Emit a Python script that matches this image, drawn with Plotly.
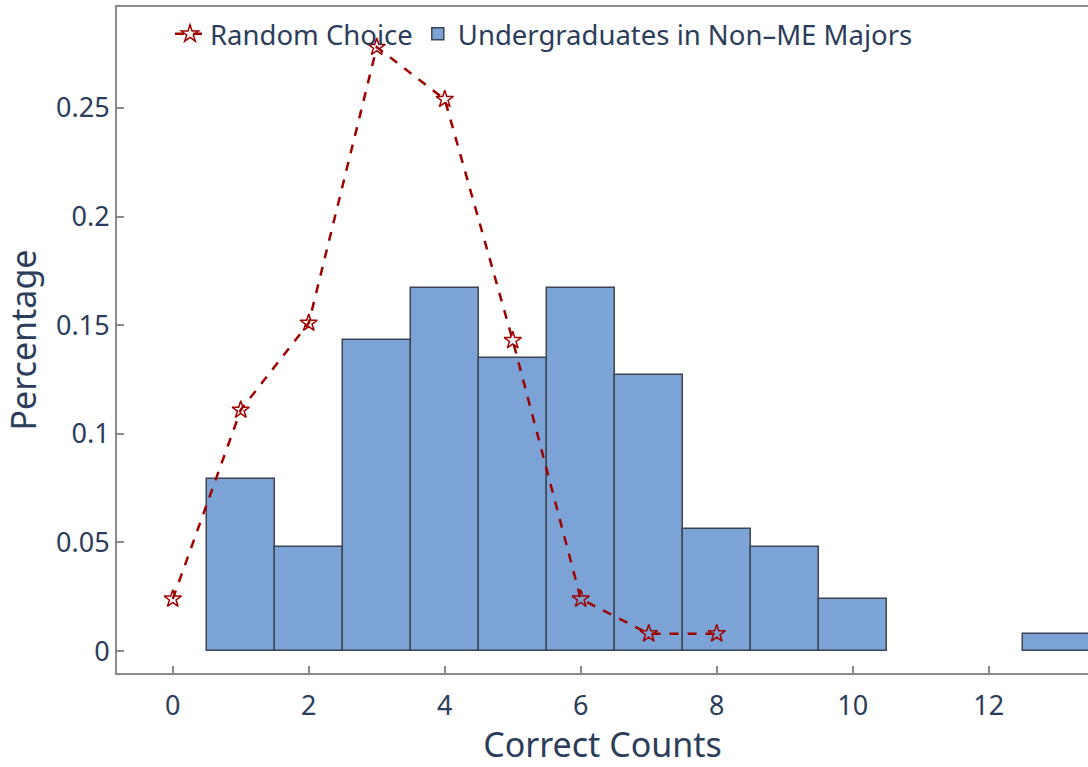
import plotly.graph_objects as go

# Data
bar_x = [1, 2, 3, 4, 5, 6, 7, 8, 9, 10, 13]
bar_y = [0.079, 0.048, 0.143, 0.167, 0.135, 0.167, 0.127, 0.056, 0.048, 0.024, 0.008]
line_x = [0, 1, 2, 3, 4, 5, 6, 7, 8]
line_y = [0.024, 0.111, 0.151, 0.278, 0.254, 0.143, 0.024, 0.008, 0.008]
ytick_vals = [0, 0.05, 0.1, 0.15, 0.2, 0.25]
ytick_text = ["0", "0.05", "0.1", "0.15", "0.2", "0.25"]
xtick_vals = [0, 2, 4, 6, 8, 10, 12]

TXT = "#2B3D5B"
AX = "#8a8a8a"
FONT = "Noto Sans"

fig = go.Figure()
fig.add_trace(go.Bar(
    x=bar_x, y=bar_y, width=1, name="Undergraduates in Non\u2013ME Majors",
    marker=dict(color="#7BA3D6", line=dict(color="#3E4552", width=1.5)),
))
fig.add_trace(go.Scatter(
    x=line_x, y=line_y, mode="lines+markers", name="Random Choice",
    line=dict(color="#9E0000", width=2.5, dash="dash"),
    marker=dict(symbol="star-open", size=13, color="#9E0000", line=dict(width=1.5, color="#9E0000")),
))

fig.update_layout(
    width=1088, height=767,
    margin=dict(l=117, r=0, t=7, b=94),
    plot_bgcolor="white", paper_bgcolor="white",
    font=dict(family=FONT, color=TXT, size=27),
    bargap=0,
    legend=dict(orientation="h", x=0.0546, y=0.9595, xanchor="left", yanchor="middle",
                font=dict(size=27.5, color=TXT), bgcolor="rgba(0,0,0,0)",
                traceorder="reversed", itemwidth=30),
    showlegend=True,
)
fig.update_xaxes(
    range=[-0.82, 13.46], tickvals=xtick_vals, ticks="inside", ticklen=7, tickwidth=1.5,
    tickcolor=AX, showline=True, linecolor=AX, linewidth=2, mirror=True,
    showgrid=False, zeroline=False, tickfont=dict(size=27, color=TXT), automargin=False,
    ticklabelstandoff=8,
    title=dict(text="Correct Counts", font=dict(size=34, color=TXT), standoff=13),
)
fig.update_yaxes(
    range=[-0.0101, 0.2965], tickvals=ytick_vals, ticktext=ytick_text, ticks="inside",
    ticklen=7, tickwidth=1.5, tickcolor=AX, showline=True, linecolor=AX, linewidth=2,
    mirror=True, showgrid=False, zeroline=False, tickfont=dict(size=27, color=TXT),
    automargin=False,
    title=dict(text="Percentage", font=dict(size=34, color=TXT), standoff=10),
)

fig.write_html("out.html", config={"displayModeBar": False},
               post_script="document.body.style.margin='0';document.body.style.padding='0';")
